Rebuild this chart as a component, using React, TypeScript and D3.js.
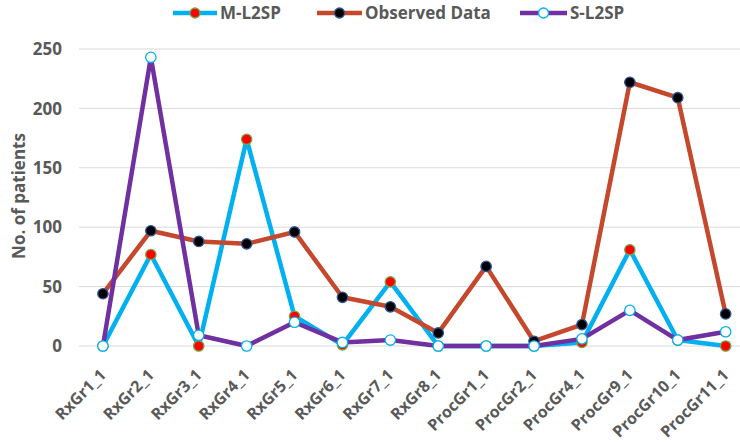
import React from "react";
import * as d3 from "d3";

const categories = [
  "RxGr1_1", "RxGr2_1", "RxGr3_1", "RxGr4_1", "RxGr5_1", "RxGr6_1", "RxGr7_1",
  "RxGr8_1", "ProcGr1_1", "ProcGr2_1", "ProcGr4_1", "ProcGr9_1", "ProcGr10_1", "ProcGr11_1",
];
const mL2sp = [0, 77, 0, 174, 25, 1, 54, 0, 0, 0, 3, 81, 5, 0];
const observed = [44, 97, 88, 86, 96, 41, 33, 11, 67, 4, 18, 222, 209, 27];
const sL2sp = [0, 243, 9, 0, 20, 3, 5, 0, 0, 0, 6, 30, 5, 12];
const yTicks = [0, 50, 100, 150, 200, 250];

const W = 740;
const H = 442;
const FONT = "'Open Sans', 'Noto Sans', sans-serif";
const TEXT = "#595959";

const series = [
  { name: "M-L2SP", values: mL2sp, line: "#00B0F0", fill: "#FF0000", stroke: "#70AD47" },
  { name: "Observed Data", values: observed, line: "#C5482C", fill: "#000000", stroke: "#2F5597" },
  { name: "S-L2SP", values: sL2sp, line: "#7030A0", fill: "#FFFFFF", stroke: "#00B0F0" },
];

const legendPos = [
  { x0: 173, x1: 217 },
  { x0: 317, x1: 362 },
  { x0: 520, x1: 567 },
];

export default function App() {
  const x = d3.scaleBand<string>().domain(categories).range([79, 79 + 14 * 47.9]);
  const cx = (c: string) => (x(c) as number) + x.bandwidth() / 2;
  const y = d3.scaleLinear().domain([0, 250]).range([346, 49]);
  const line = d3
    .line<number>()
    .x((_, i) => cx(categories[i]))
    .y((v) => y(v));

  return (
    <svg
      width={W}
      height={H}
      style={{ position: "absolute", left: 0, top: 0, background: "#fff" }}
      fontFamily={FONT}
    >
      {/* horizontal gridlines and value labels */}
      {yTicks.map((t) => (
        <g key={t}>
          <line x1={79} x2={W} y1={y(t)} y2={y(t)} stroke="#D9D9D9" strokeWidth={1} />
          <text
            x={62}
            y={y(t)}
            dy="0.36em"
            textAnchor="end"
            fontSize={17}
            fontWeight="bold"
            fill={TEXT}
          >
            {t}
          </text>
        </g>
      ))}

      {/* y axis title */}
      <g transform="translate(25,196) rotate(-90)">
        <text textAnchor="middle" fontSize={17} fontWeight="bold" fill={TEXT}>
          No. of patients
        </text>
      </g>

      {/* category labels, slanted */}
      {categories.map((c) => (
        <g key={c} transform={`translate(${cx(c) + 4},376) rotate(-45)`}>
          <text textAnchor="end" fontSize={16} fontWeight="bold" fill={TEXT}>
            {c}
          </text>
        </g>
      ))}

      {/* series lines and markers */}
      {series.map((s) => (
        <g key={s.name}>
          <path
            d={line(s.values) as string}
            fill="none"
            stroke={s.line}
            strokeWidth={4.5}
            strokeLinejoin="round"
          />
          {s.values.map((v, i) => (
            <circle
              key={i}
              cx={cx(categories[i])}
              cy={y(v)}
              r={5.2}
              fill={s.fill}
              stroke={s.stroke}
              strokeWidth={1.3}
            />
          ))}
        </g>
      ))}

      {/* legend */}
      {series.map((s, i) => {
        const p = legendPos[i];
        return (
          <g key={s.name}>
            <line x1={p.x0} x2={p.x1} y1={13} y2={13} stroke={s.line} strokeWidth={4.5} />
            <circle
              cx={(p.x0 + p.x1) / 2}
              cy={13}
              r={5}
              fill={s.fill}
              stroke={s.stroke}
              strokeWidth={1.3}
            />
            <text
              x={p.x1 + 3}
              y={13}
              dy="0.36em"
              fontSize={17}
              fontWeight="bold"
              fill={TEXT}
            >
              {s.name}
            </text>
          </g>
        );
      })}
    </svg>
  );
}
